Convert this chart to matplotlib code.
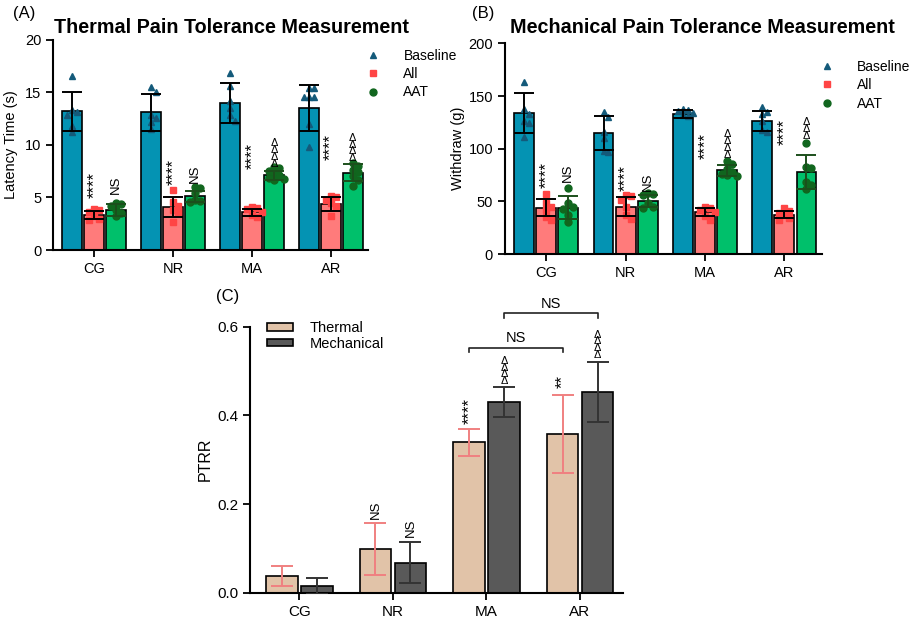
import numpy as np
import matplotlib.pyplot as plt
from matplotlib.lines import Line2D
from matplotlib.patches import Patch

plt.rcParams['font.family'] = ['Liberation Sans', 'DejaVu Sans']

groups = ['CG', 'NR', 'MA', 'AR']
series = ['Baseline', 'All', 'AAT']

# (A) thermal pain, latency time (s)
thermal_mean = {'Baseline': [13.2, 13.1, 14.0, 13.5],
                'All': [3.35, 4.1, 3.6, 4.35],
                'AAT': [3.8, 5.1, 7.1, 7.35]}
thermal_sd = {'Baseline': [1.85, 1.75, 1.9, 2.2],
              'All': [0.35, 0.95, 0.35, 0.65],
              'AAT': [0.55, 0.5, 0.45, 0.8]}
thermal_pts = {
    'Baseline': [[16.6, 13.3, 13.1, 12.8, 11.8, 11.2],
                 [15.5, 15.0, 12.8, 12.6, 12.2, 11.5],
                 [16.8, 15.6, 14.2, 13.5, 12.8, 12.3],
                 [15.4, 15.4, 14.6, 14.6, 14.6, 12.0, 9.8]],
    'All': [[3.9, 3.8, 3.6, 3.2, 3.0, 2.9],
            [5.7, 4.6, 4.2, 3.8, 3.6, 2.7],
            [4.1, 4.0, 3.9, 3.6, 3.3, 3.1],
            [5.1, 5.0, 4.8, 4.5, 4.2, 3.2]],
    'AAT': [[4.5, 4.4, 4.2, 3.8, 3.5, 3.2],
            [6.0, 5.9, 5.4, 4.8, 4.7, 4.6],
            [7.9, 7.8, 7.5, 7.3, 7.1, 6.9, 6.8, 6.7],
            [8.3, 8.0, 7.6, 7.4, 7.0, 6.7, 6.1]],
}
thermal_marks = {'All': ['****', '****', '****', '****'],
                 'AAT': ['NS', 'NS', 'ΔΔΔΔ', 'ΔΔΔΔ']}
thermal_mark_y = {'All': [6.2, 7.4, 8.9, 9.8], 'AAT': [6.2, 7.3, 9.2, 9.7]}

# (B) mechanical pain, withdraw (g)
mech_mean = {'Baseline': [133.5, 115, 133, 126.5],
             'All': [44, 45, 40, 37.5],
             'AAT': [44, 50.5, 79.5, 78]}
mech_sd = {'Baseline': [19, 16, 3.5, 9.5],
           'All': [8, 9, 3.5, 3.5],
           'AAT': [11, 6, 5, 16]}
mech_pts = {
    'Baseline': [[163, 138, 133, 126, 124, 111],
                 [135, 130, 116, 110, 98, 97],
                 [138, 137, 136, 134, 132, 131],
                 [140, 135, 133, 126, 118, 116]],
    'All': [[57, 48, 45, 42, 35, 32],
            [56, 55, 51, 45, 37, 33],
            [45, 44, 42, 40, 36, 32],
            [44, 41, 39, 37, 34, 32]],
    'AAT': [[63, 48, 45, 43, 37, 30],
            [58, 57, 56, 48, 45, 44],
            [88, 85, 81, 78, 76, 75, 74],
            [105, 83, 82, 68, 66, 62]],
}
mech_marks = {'All': ['****', '****', '****', '****'],
              'AAT': ['NS', 'NS', 'ΔΔΔΔ', 'ΔΔΔ']}
mech_mark_y = {'All': [75, 72, 103, 116], 'AAT': [77, 69, 104, 118.5]}

# (C) PTRR
ptrr_series = ['Thermal', 'Mechanical']
ptrr_mean = {'Thermal': [0.038, 0.099, 0.339, 0.357],
             'Mechanical': [0.015, 0.068, 0.430, 0.453]}
ptrr_sd = {'Thermal': [0.023, 0.059, 0.030, 0.088],
           'Mechanical': [0.019, 0.047, 0.033, 0.067]}
ptrr_marks = {'Thermal': ['', 'NS', '****', '**'],
              'Mechanical': ['', 'NS', 'ΔΔΔΔ', 'ΔΔΔΔ']}
ptrr_mark_y = {'Thermal': [0, 0.187, 0.41, 0.476],
               'Mechanical': [0, 0.146, 0.50, 0.559]}
# (group a, series, group b, series, height, label)
brackets = [('MA', 'Thermal', 'AR', 'Thermal', 0.553, 'NS'),
            ('MA', 'Mechanical', 'AR', 'Mechanical', 0.63, 'NS')]

bar_col = {'Baseline': '#0493b3', 'All': '#ff7b7b', 'AAT': '#00c06b',
           'Thermal': '#e1c3a8', 'Mechanical': '#595959'}
pt_col = {'Baseline': '#145a7a', 'All': '#ff4545', 'AAT': '#11661e'}
err_col = {'Baseline': 'black', 'All': 'black', 'AAT': '#1c4f1c',
           'Thermal': '#f08080', 'Mechanical': '#333333'}
markers = {'Baseline': '^', 'All': 's', 'AAT': 'o'}


def swarm(vals, dy, dx):
    # simple beeswarm offsets so the dots do not overlap
    vals = np.asarray(vals, float)
    xs = np.zeros(len(vals))
    placed = []
    for i in np.argsort(vals)[::-1]:
        for k in [0, 1, -1, 2, -2, 3, -3]:
            x = k * dx
            ok = all(((x - px) / dx) ** 2 + ((vals[i] - py) / dy) ** 2 >= 0.95
                     for px, py in placed)
            if ok:
                break
        xs[i] = x
        placed.append((x, vals[i]))
    return xs


def style_axes(ax, lw=1.5):
    for s in ['top', 'right']:
        ax.spines[s].set_visible(False)
    for s in ['left', 'bottom']:
        ax.spines[s].set_linewidth(lw)
    ax.tick_params(direction='out', length=5, width=1.3, labelsize=10.5)


def mark_text(ax, x, y, txt):
    if not txt:
        return
    if txt.startswith('Δ'):
        ax.text(x, y, '\n'.join(txt), ha='center', va='center', fontsize=7.8,
                linespacing=0.6, clip_on=False)
    elif txt.startswith('*'):
        ax.text(x, y, txt, ha='center', va='center', rotation=90, fontsize=12,
                clip_on=False)
    else:
        ax.text(x, y, txt, ha='center', va='center', rotation=90, fontsize=9.5,
                clip_on=False)


def group_panel(ax, means, sds, pts, marks, mark_y, ylim, yticks, dy):
    x = np.arange(len(groups))
    step, width = 0.278, 0.25
    for j, s in enumerate(series):
        xc = x + (j - 1) * step
        ax.bar(xc, means[s], width, color=bar_col[s], edgecolor='black',
               linewidth=1.2, zorder=2)
        for i in range(len(groups)):
            vals = np.array(pts[s][i])
            ax.plot(xc[i] + swarm(vals, dy, 0.062), vals, ls='none',
                    marker=markers[s], ms=5, color=pt_col[s], zorder=3)
        ax.errorbar(xc, means[s], yerr=sds[s], fmt='none', ecolor=err_col[s],
                    elinewidth=1.4, capsize=7, capthick=1.4, zorder=4)
        if s in marks:
            for i in range(len(groups)):
                mark_text(ax, xc[i], mark_y[s][i], marks[s][i])
    ax.set_xticks(x)
    ax.set_xticklabels(groups)
    ax.set_xlim(-0.52, 3.47)
    ax.set_ylim(*ylim)
    ax.set_yticks(yticks)
    style_axes(ax)


fig = plt.figure(figsize=(9.13, 6.22), dpi=100)

axA = fig.add_axes([0.058, 0.598, 0.345, 0.338])
group_panel(axA, thermal_mean, thermal_sd, thermal_pts, thermal_marks,
            thermal_mark_y, (0, 20), [0, 5, 10, 15, 20], 0.55)
axA.set_ylabel('Latency Time (s)', fontsize=10.5)
axA.yaxis.set_label_coords(-0.11, 0.5)

axB = fig.add_axes([0.553, 0.5916, 0.347, 0.3387])
group_panel(axB, mech_mean, mech_sd, mech_pts, mech_marks,
            mech_mark_y, (0, 200), [0, 50, 100, 150, 200], 5.5)
axB.set_ylabel('Withdraw (g)', fontsize=10.5)
axB.yaxis.set_label_coords(-0.125, 0.5)

handles = [Line2D([], [], ls='none', marker=markers[s], ms=5, color=pt_col[s])
           for s in series]
for x0, y0 in [(0.397, 0.922), (0.894, 0.904)]:
    fig.legend(handles, series, loc='upper left', bbox_to_anchor=(x0, y0),
               frameon=False, fontsize=10, handlelength=1.5,
               handletextpad=1.45, labelspacing=0.32, borderpad=0,
               borderaxespad=0)

fig.text(0.254, 0.956, 'Thermal Pain Tolerance Measurement', ha='center',
         va='center', fontsize=14.2, fontweight='bold')
fig.text(0.769, 0.956, 'Mechanical Pain Tolerance Measurement', ha='center',
         va='center', fontsize=14.2, fontweight='bold')
fig.text(0.014, 0.979, '(A)', ha='left', va='center', fontsize=12)
fig.text(0.517, 0.979, '(B)', ha='left', va='center', fontsize=12)
fig.text(0.237, 0.523, '(C)', ha='left', va='center', fontsize=12)

# (C)
axC = fig.add_axes([0.274, 0.0471, 0.408, 0.4277])
x = np.arange(len(groups))
off, width = 0.187, 0.34
xpos = {}
for j, s in enumerate(ptrr_series):
    xc = x + (j * 2 - 1) * off
    xpos[s] = xc
    axC.bar(xc, ptrr_mean[s], width, color=bar_col[s], edgecolor='black',
            linewidth=1.2, zorder=2)
    axC.errorbar(xc, ptrr_mean[s], yerr=ptrr_sd[s], fmt='none',
                 ecolor=err_col[s], elinewidth=1.4, capsize=8, capthick=1.4,
                 zorder=3)
    for i in range(len(groups)):
        mark_text(axC, xc[i], ptrr_mark_y[s][i], ptrr_marks[s][i])

for ga, sa, gb, sb, h, lab in brackets:
    xa = xpos[sa][groups.index(ga)]
    xb = xpos[sb][groups.index(gb)]
    axC.plot([xa, xa, xb, xb], [h - 0.011, h, h, h - 0.011], color='#222222',
             lw=1.2, clip_on=False)
    axC.text((xa + xb) / 2, h + 0.006, lab, ha='center', va='bottom',
             fontsize=10.5, clip_on=False)

axC.set_xticks(x)
axC.set_xticklabels(groups)
axC.set_xlim(-0.527, 3.456)
axC.set_ylim(0, 0.6)
axC.set_yticks([0, 0.2, 0.4, 0.6])
axC.set_yticklabels(['0.0', '0.2', '0.4', '0.6'])
style_axes(axC)
axC.tick_params(labelsize=11)
axC.set_ylabel('PTRR', fontsize=11.5)
axC.yaxis.set_label_coords(-0.1, 0.5)

leg_handles = [Patch(facecolor=bar_col[s], edgecolor='black', linewidth=1.2)
               for s in ptrr_series]
fig.legend(leg_handles, ptrr_series, loc='upper left',
           bbox_to_anchor=(0.2925, 0.484), frameon=False, fontsize=10.5,
           handlelength=1.8, handleheight=0.45, handletextpad=1.1,
           labelspacing=0.12, borderpad=0, borderaxespad=0)

fig.savefig('out.png', dpi=100)
